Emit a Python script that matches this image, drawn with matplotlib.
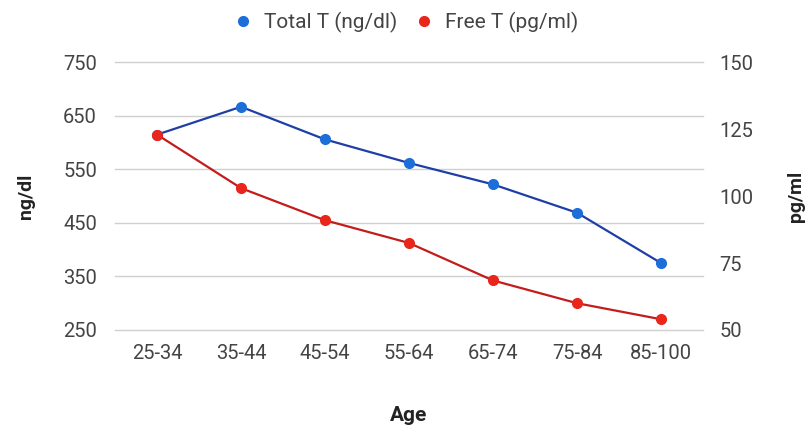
import numpy as np
import matplotlib.pyplot as plt
from matplotlib.lines import Line2D

# age groups and hormone levels
ages = ['25-34', '35-44', '45-54', '55-64', '65-74', '75-84', '85-100']
total_t = [615, 667, 606, 562, 522, 469, 375]   # ng/dl
free_t = [123, 103, 91, 82.5, 68.5, 60, 54]     # pg/ml

left_ticks = [250, 350, 450, 550, 650, 750]
right_ticks = [50, 75, 100, 125, 150]

blue_line = '#1f3fa6'
blue_dot = '#1c6fd8'
red_line = '#c41b1b'
red_dot = '#e8261c'
text_col = '#444444'

plt.rcParams['font.family'] = 'Roboto'

fig = plt.figure(figsize=(8.1, 4.3), dpi=100)
ax = fig.add_axes([0.142, 0.2326, 0.726, 0.6224])
ax2 = ax.twinx()

x = np.arange(len(ages))

for a in (ax, ax2):
    for s in a.spines.values():
        s.set_visible(False)
    a.tick_params(length=0, labelsize=14.5, labelcolor=text_col)

ax.set_ylim(250, 750)
ax.set_yticks(left_ticks)
ax2.set_ylim(50, 150)
ax2.set_yticks(right_ticks)
ax.set_xlim(-0.5, len(ages) - 0.5)
ax.set_xticks(x)
ax.set_xticklabels(ages)
ax.tick_params(axis='x', pad=10)
ax.tick_params(axis='y', pad=13)
ax2.tick_params(axis='y', pad=12)
for v in left_ticks:
    ax.axhline(v, color='#d0d0d0', linewidth=1, zorder=1, clip_on=False)

ax.plot(x, total_t, '-', color=blue_line, linewidth=1.6, zorder=3)
ax.plot(x, total_t, 'o', color=blue_dot, markersize=7, zorder=4)
ax2.plot(x, free_t, '-', color=red_line, linewidth=1.6, zorder=3)
ax2.plot(x, free_t, 'o', color=red_dot, markersize=7, zorder=4)

ax.set_ylabel('ng/dl', fontsize=14, fontweight='bold', color='#222222', labelpad=20)
ax2.set_ylabel('pg/ml', fontsize=14, fontweight='bold', color='#222222', labelpad=24)
ax.set_xlabel('Age', fontsize=15, fontweight='bold', color='#222222', labelpad=31)

handles = [
    Line2D([], [], linestyle='none', marker='o', color=blue_dot, markersize=7),
    Line2D([], [], linestyle='none', marker='o', color=red_dot, markersize=7),
]
fig.legend(handles, ['Total T (ng/dl)', 'Free T (pg/ml)'], loc='upper center',
           bbox_to_anchor=(0.494, 1.015), ncol=2, frameon=False, fontsize=15,
           handletextpad=0.0, columnspacing=0.3, labelcolor=text_col)

fig.savefig('out.png', dpi=100)
